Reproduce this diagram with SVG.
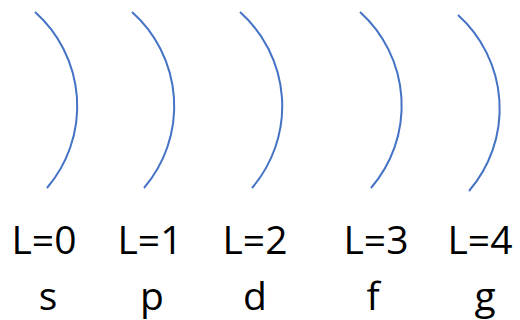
<svg xmlns="http://www.w3.org/2000/svg" width="520" height="320" viewBox="0 0 520 320">
<style>
.arc{fill:none;stroke:#4472C4;stroke-width:2}
.t{font-family:"Open Sans","Liberation Sans",sans-serif;font-size:39px;fill:#000;text-anchor:middle}
</style>
<rect width="520" height="320" fill="#fff"/>
<g id="arcs">
<path class="arc" d="M35 12 A126 126 0 0 1 47 188"/>
<path class="arc" d="M132 12 A126 126 0 0 1 144 188"/>
<path class="arc" d="M240 12 A126 126 0 0 1 252 188"/>
<path class="arc" d="M360 12 A126 126 0 0 1 371 188"/>
<path class="arc" d="M458 15 A126 126 0 0 1 469 191"/>
</g>
<g id="n0"><text class="t" x="44" y="254">L=0</text><text class="t" x="48" y="310">s</text></g>
<g id="n1"><text class="t" x="150" y="254">L=1</text><text class="t" x="152" y="310">p</text></g>
<g id="n2"><text class="t" x="255" y="254">L=2</text><text class="t" x="255" y="310">d</text></g>
<g id="n3"><text class="t" x="376" y="254">L=3</text><text class="t" x="373" y="310">f</text></g>
<g id="n4"><text class="t" x="480" y="254">L=4</text><text class="t" x="485" y="310">g</text></g>
</svg>
